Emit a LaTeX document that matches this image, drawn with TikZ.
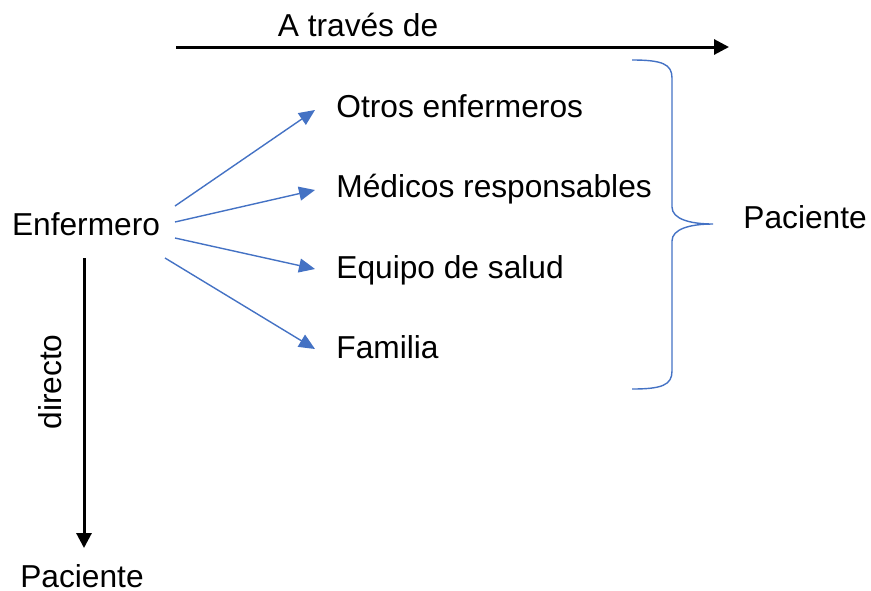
\documentclass[tikz,border=0pt]{standalone}
\usepackage{fontspec}
\setmainfont{Liberation Sans}
\usetikzlibrary{arrows.meta}
\definecolor{azul}{HTML}{4472C4}
\tikzset{
	txt/.style={inner sep=0pt, font=\fontsize{15.85}{19}\selectfont},
	flechanegra/.style={line width=1.5pt, -{Triangle[length=7.5pt,width=7.5pt]}},
	flechaazul/.style={color=azul, line width=0.7pt, -{Triangle[length=8pt,width=7pt]}}
}

\begin{document}
\begin{tikzpicture}[x=0.5pt, y=-0.5pt]
			%%%%% START %%%%%
			\useasboundingbox (0, 0) rectangle (871, 590);
			
			\node[txt, anchor=base] (enf) at (86, 235) {Enfermero};
			\node[txt, anchor=base] (atraves) at (358, 36) {A través de};
			
			\node[txt, anchor=base west] (otros) at (336, 117) {Otros enfermeros};
			\node[txt, anchor=base west] (medicos) at (336, 197) {Médicos responsables};
			\node[txt, anchor=base west] (equipo) at (336, 278) {Equipo de salud};
			\node[txt, anchor=base west] (familia) at (336, 358) {Familia};
			
			\node[txt, anchor=base west] (pacder) at (743, 228) {Paciente};
			\node[txt, anchor=base] (pacabajo) at (82, 587) {Paciente};
			\node[txt, rotate=90] (directo) at (50, 382) {directo};
			
			% flecha de arriba
			\coordinate (ini) at (176, 47);
			\coordinate (fin) at (729, 47);
			\draw[flechanegra] (ini) -- (fin);
			
			% flecha hacia abajo
			\coordinate (arr) at (84, 258);
			\coordinate (aba) at (84, 548);
			\draw[flechanegra] (arr) -- (aba);
			
			% flechas azules
			\coordinate (s1) at (175, 206);
			\coordinate (s2) at (175, 222);
			\coordinate (s3) at (175, 238);
			\coordinate (s4) at (165, 258);
			\draw[flechaazul] (s1) -- (315, 110);
			\draw[flechaazul] (s2) -- (315, 190);
			\draw[flechaazul] (s3) -- (315, 269);
			\draw[flechaazul] (s4) -- (315, 349);
			
			% llave
			\draw[color=azul, line width=0.7pt] (632, 60) .. controls (662, 60) and (672, 64) .. (672, 78)
				-- (672, 207) .. controls (672, 219) and (690, 224) .. (713, 224)
				.. controls (690, 224) and (672, 229) .. (672, 241)
				-- (672, 371) .. controls (672, 385) and (662, 389) .. (632, 389);
			
			%%%%% END %%%%%
		\end{tikzpicture}
\end{document}
